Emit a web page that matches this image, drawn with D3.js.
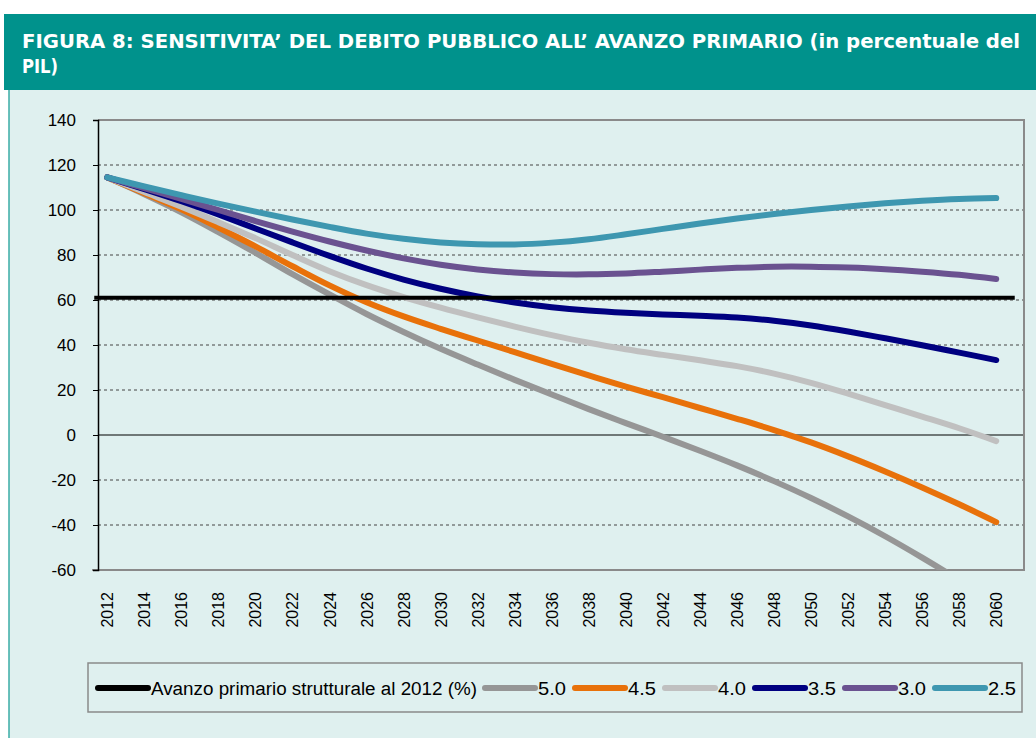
<!DOCTYPE html>
<html>
<head>
<meta charset="utf-8">
<script src="https://cdn.jsdelivr.net/npm/d3@7"></script>
<style>
  body { margin: 0; background: #fff; }
  svg { display: block; }
</style>
</head>
<body>
<svg id="chart"></svg>
<script>
var width = 1036;
var height = 738;

// categories: one per year, the last one (2061) has no label
var years = d3.range(2012, 2062);
var tickYears = d3.range(2012, 2061, 2);
var yTicks = [-60, -40, -20, 0, 20, 40, 60, 80, 100, 120, 140];

// values read every two years
var pointYears = [2012, 2014, 2016, 2018, 2020, 2022, 2024, 2026, 2028, 2030, 2032, 2034, 2036,
                  2038, 2040, 2042, 2044, 2046, 2048, 2050, 2052, 2054, 2056, 2058, 2060];

var avanzo50 = [114.5, 107, 99, 90.2, 81, 71.5, 62.5, 53.8, 45.8, 38.3, 31.3, 24.5, 18,
                11.5, 5.3, -0.8, -7, -13.5, -20.5, -28, -36.2, -45, -54.5, -64.5, -75];
var avanzo45 = [114.5, 107.5, 100.3, 92.2, 83.8, 75, 66.5, 59, 52.7, 47.2, 42, 36.8, 31.6,
                26.5, 21.5, 16.8, 12, 7.2, 2.2, -3.3, -9.5, -16.2, -23.3, -30.8, -38.7];
var avanzo40 = [114.5, 108, 101.5, 94.6, 87.5, 80, 72.8, 66.6, 61.3, 56.6, 52.3, 48.2, 44.4,
                41, 38.1, 35.6, 33.2, 30.6, 27.3, 23.2, 18.4, 13.3, 8.2, 3, -2.7];
var avanzo35 = [114.5, 109.3, 103.9, 98, 91.8, 85.6, 79.6, 74, 69.1, 65, 61.6, 58.9, 56.8,
                55.3, 54.3, 53.6, 53, 52.2, 50.8, 48.7, 46, 43, 39.9, 36.6, 33.3];
var avanzo30 = [114.5, 109.7, 104.9, 100, 95.1, 90.4, 86, 82, 78.5, 75.7, 73.6, 72.2, 71.5,
                71.4, 71.8, 72.6, 73.5, 74.3, 74.8, 74.8, 74.4, 73.7, 72.6, 71.2, 69.3];
var avanzo25 = [114.5, 110.5, 106.6, 102.8, 99.3, 95.8, 92.5, 89.5, 87.2, 85.6, 84.8, 84.7, 85.5,
                87, 89.2, 91.6, 94, 96.2, 98.2, 100, 101.6, 103, 104.1, 104.9, 105.3];

var structuralYears = [2012, 2061];
var structuralValue = [61, 61];

var seriesNames = ['5.0', '4.5', '4.0', '3.5', '3.0', '2.5'];
var seriesValues = [avanzo50, avanzo45, avanzo40, avanzo35, avanzo30, avanzo25];
var seriesColors = ['#969696', '#e8710a', '#c0c0c0', '#000080', '#6a5290', '#3e97b0'];
var structuralName = 'Avanzo primario strutturale al 2012 (%)';

var svg = d3.select('#chart')
    .attr('width', width)
    .attr('height', height);

// panel background and header
svg.append('rect')
    .attr('x', 9).attr('y', 90)
    .attr('width', width - 9).attr('height', height - 90)
    .attr('fill', '#dff0ef');
svg.append('line')
    .attr('x1', 9).attr('x2', 9)
    .attr('y1', 90).attr('y2', height)
    .attr('stroke', '#3aaca6')
    .attr('stroke-width', 1.5);
svg.append('rect')
    .attr('x', 4).attr('y', 14)
    .attr('width', width - 4).attr('height', 76)
    .attr('fill', '#00928c');

var title = svg.append('g')
    .attr('fill', '#fff')
    .attr('font-family', '"DejaVu Sans Condensed", "DejaVu Sans", sans-serif')
    .attr('font-weight', 'bold')
    .attr('font-size', 20);
title.append('text')
    .attr('x', 22).attr('y', 48)
    .attr('textLength', 998)
    .attr('lengthAdjust', 'spacingAndGlyphs')
    .text('FIGURA 8: SENSITIVITA\u2019 DEL DEBITO PUBBLICO ALL\u2019 AVANZO PRIMARIO (in percentuale del');
title.append('text')
    .attr('x', 22).attr('y', 73)
    .attr('textLength', 36)
    .attr('lengthAdjust', 'spacingAndGlyphs')
    .text('PIL)');

// plot
var plot = {left: 98, right: 1024, top: 120, bottom: 570};

var xScale = d3.scaleBand()
    .domain(years)
    .range([plot.left, plot.right]);
var xPos = d => xScale(d) + xScale.bandwidth() / 2;

var yScale = d3.scaleLinear()
    .domain([-60, 140])
    .range([plot.bottom, plot.top]);

svg.append('defs').append('clipPath')
    .attr('id', 'plotClip')
  .append('rect')
    .attr('x', plot.left - 8).attr('y', plot.top)
    .attr('width', plot.right - plot.left + 8)
    .attr('height', plot.bottom - plot.top);

// gridlines
svg.append('g')
  .selectAll('line')
  .data(yTicks.filter(d => d !== 0 && d !== 140 && d !== -60))
  .enter()
  .append('line')
    .attr('x1', plot.left).attr('x2', plot.right)
    .attr('y1', d => yScale(d)).attr('y2', d => yScale(d))
    .attr('stroke', '#444')
    .attr('stroke-width', 1)
    .attr('stroke-dasharray', '3,3');

svg.append('line')
    .attr('x1', plot.left).attr('x2', plot.right)
    .attr('y1', yScale(0)).attr('y2', yScale(0))
    .attr('stroke', '#000')
    .attr('stroke-width', 1.2);

// plot border (top, right, bottom)
svg.append('path')
    .attr('d', 'M' + plot.left + ',' + plot.top + 'H' + plot.right + 'V' + plot.bottom + 'H' + (plot.left - 6))
    .attr('fill', 'none')
    .attr('stroke', '#8a8a8a')
    .attr('stroke-width', 2);

// y axis
var yAxis = svg.append('g')
    .attr('transform', 'translate(' + plot.left + ',0)')
    .call(d3.axisLeft(yScale)
        .tickValues(yTicks)
        .tickFormat(d => String(d))
        .tickSize(5)
        .tickPadding(17));
yAxis.select('.domain').attr('stroke', '#000').attr('stroke-width', 1.5);
yAxis.selectAll('.tick line').attr('stroke', '#000');
yAxis.selectAll('.tick text')
    .attr('font-family', '"Liberation Sans", Arial, sans-serif')
    .attr('font-size', 17)
    .attr('fill', '#000');

// x labels
svg.append('g')
  .selectAll('text')
  .data(tickYears)
  .enter()
  .append('text')
    .attr('transform', d => 'translate(' + (xPos(d) + 6) + ',' + (plot.bottom + 22) + ') rotate(-90)')
    .attr('text-anchor', 'end')
    .attr('font-family', '"Liberation Sans", Arial, sans-serif')
    .attr('font-size', 16)
    .attr('fill', '#000')
    .text(d => d);

// series lines
var line = d3.line()
    .x(d => xPos(d[0]))
    .y(d => yScale(d[1]))
    .curve(d3.curveCatmullRom.alpha(0.5));

var lines = svg.append('g')
    .attr('clip-path', 'url(#plotClip)');

seriesValues.forEach((vals, i) => {
  lines.append('path')
      .datum(pointYears.map((y, j) => [y, vals[j]]))
      .attr('d', line)
      .attr('fill', 'none')
      .attr('stroke', seriesColors[i])
      .attr('stroke-width', 6)
      .attr('stroke-linecap', 'round')
      .attr('stroke-linejoin', 'round');
});

svg.append('line')
    .attr('x1', xPos(structuralYears[0]) - 13)
    .attr('x2', xPos(structuralYears[1]))
    .attr('y1', yScale(structuralValue[0]))
    .attr('y2', yScale(structuralValue[1]))
    .attr('stroke', '#000')
    .attr('stroke-width', 4);

// legend
svg.append('rect')
    .attr('x', 88).attr('y', 663)
    .attr('width', 934).attr('height', 49)
    .attr('fill', 'none')
    .attr('stroke', '#8a8a8a')
    .attr('stroke-width', 1.5);

var legendNames = [structuralName].concat(seriesNames);
var legendColors = ['#000'].concat(seriesColors);
var legendX = [95, 482, 572, 662, 752, 842, 932];

var legend = svg.append('g')
  .selectAll('g')
  .data(legendNames)
  .enter()
  .append('g')
    .attr('transform', (d, i) => 'translate(' + legendX[i] + ',688)');

legend.append('line')
    .attr('x1', 3).attr('x2', 53)
    .attr('stroke', (d, i) => legendColors[i])
    .attr('stroke-width', 6)
    .attr('stroke-linecap', 'round');

legend.append('text')
    .attr('x', 56)
    .attr('y', 7)
    .attr('font-family', '"Liberation Sans", Arial, sans-serif')
    .attr('font-size', 18)
    .attr('fill', '#000')
    .attr('textLength', (d, i) => i === 0 ? 326 : 28)
    .attr('lengthAdjust', 'spacingAndGlyphs')
    .text(d => d);
</script>
</body>
</html>
